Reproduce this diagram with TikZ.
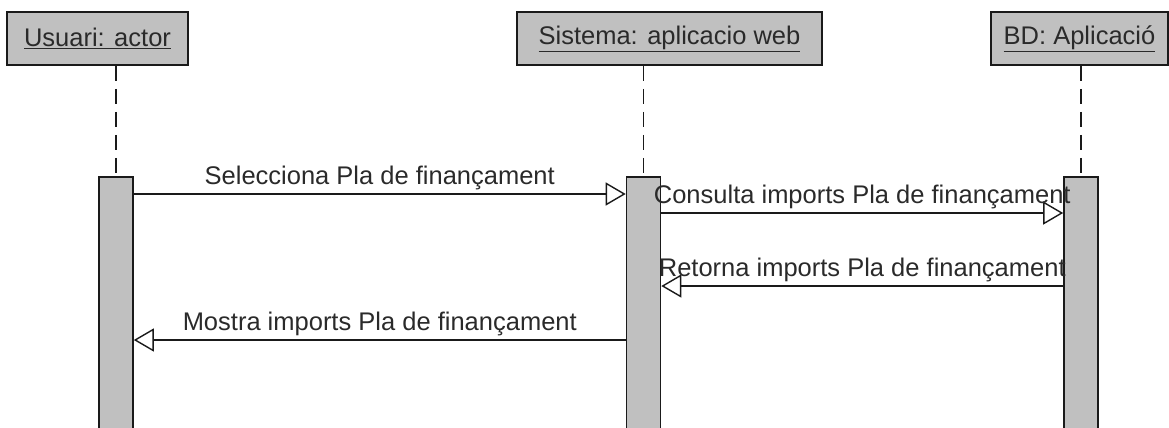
\documentclass[tikz,border=0pt]{standalone}
\usepackage{fontspec}
\setmainfont{Liberation Sans}
\usepackage{xcolor}
\usepackage{tikz}
\usetikzlibrary{arrows.meta,positioning,calc}
\definecolor{cFill}{HTML}{C0C0C0}
\definecolor{cInk}{HTML}{2A2A2A}
\definecolor{cEdge}{HTML}{1A1A1A}
\tikzset{
  head/.style={draw=cEdge,fill=cFill,line width=1.6pt,minimum height=53pt,inner sep=0pt,font=\fontsize{25.5}{30}\selectfont,text=cInk},
  bar/.style={draw=cEdge,fill=cFill,line width=1.6pt,minimum width=34pt,minimum height=300pt,inner sep=0pt,anchor=north},
  lifeline/.style={draw=cEdge,line width=1.5pt,dash pattern=on 15pt off 8pt},
  msg/.style={-{Triangle[open,length=20pt,width=23pt,line width=1.4pt]},line width=1.5pt,draw=cEdge},
  msglbl/.style={font=\fontsize{25.5}{30}\selectfont,text=cInk,inner sep=3pt},
}
\begin{document}
\begin{tikzpicture}[x=1pt,y=-1pt]
    \useasboundingbox (0,0) rectangle (1169,428);
    \clip (0,0) rectangle (1169,428);
    % objects
    \node[head,minimum width=181pt] (usr) at (97.5,38.5) {\underline{Usuari: actor}};
    \node[head,minimum width=305pt] (sis) at (669.5,38.5) {\underline{Sistema: aplicacio web}};
    \node[head,minimum width=177pt] (bd) at (1079.5,38.5) {\underline{BD: Aplicació}};
    % activations
    \node[bar] (busr) at (116,176) {};
    \node[bar] (bsis) at (643.5,176) {};
    \node[bar] (bbd) at (1081,176) {};
    \draw[lifeline] (usr.south -| busr.north) -- (busr.north);
    \draw[lifeline] (sis.south -| bsis.north) -- (bsis.north);
    \draw[lifeline] (bd.south -| bbd.north) -- (bbd.north);
    % messages
    \coordinate (m1) at (0,194); \coordinate (m2) at (0,213);
    \coordinate (m3) at (0,286); \coordinate (m4) at (0,340);
    \draw[msg] (busr.east |- m1) -- node[msglbl,above] (l1) {Selecciona Pla de finançament} (bsis.west |- m1);
    \draw[msg] (bsis.east |- m2) -- node[msglbl,above] (l2) {Consulta imports Pla de finançament} (bbd.west |- m2);
    \draw[msg] (bbd.west |- m3) -- node[msglbl,above] (l3) {Retorna imports Pla de finançament} (bsis.east |- m3);
    \draw[msg] (bsis.west |- m4) -- node[msglbl,above] (l4) {Mostra imports Pla de finançament} (busr.east |- m4);
  \end{tikzpicture}
\end{document}
